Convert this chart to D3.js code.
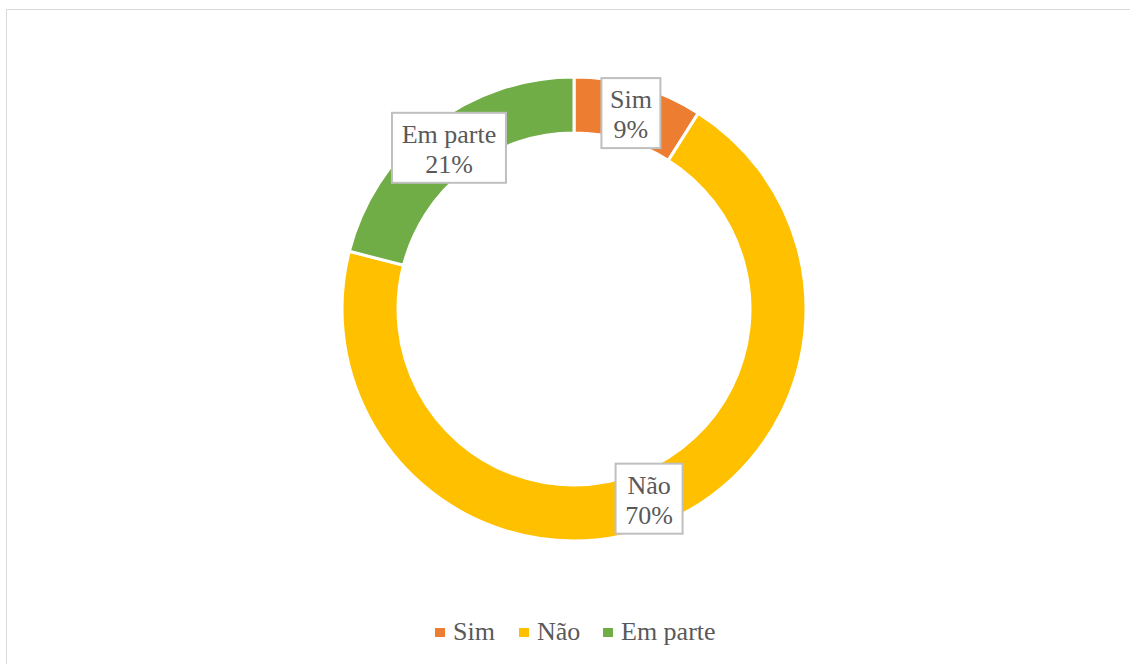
<!DOCTYPE html>
<html><head><meta charset="utf-8">
<script src="https://cdn.jsdelivr.net/npm/d3@7"></script>
<style>body{margin:0;background:#fff}svg{display:block}</style>
</head><body>
<svg id="chart" width="1130" height="664"></svg>
<script>
const categories = ["Sim", "Não", "Em parte"];
const values = [9, 70, 21];
const labels = ["9%", "70%", "21%"];
const colors = ["#ED7D31", "#FFC000", "#70AD47"];

const svg = d3.select("#chart");
const font = "'Liberation Serif','Times New Roman',serif";
svg.append("rect").attr("x", 6.5).attr("y", 9.5).attr("width", 1140).attr("height", 680)
  .attr("fill", "#fff").attr("stroke", "#d9d9d9").attr("stroke-width", 1);

const cx = 574, cy = 309, R = 232, r = 176;
const pie = d3.pie().sort(null).value(d => d)(values);
const arc = d3.arc().innerRadius(r).outerRadius(R);
const g = svg.append("g").attr("transform", `translate(${cx},${cy})`);
g.selectAll("path").data(pie).join("path")
  .attr("d", arc).attr("fill", (d, i) => colors[i])
  .attr("stroke", "#fff").attr("stroke-width", 3);

const mid = d3.arc().innerRadius((R + r) / 2).outerRadius((R + r) / 2);
const boxW = [59, 67, 114];
pie.forEach((d, i) => {
  const [x, y] = mid.centroid(d);
  const lg = g.append("g").attr("transform", `translate(${x},${y})`);
  lg.append("rect").attr("x", -boxW[i] / 2).attr("y", -35).attr("width", boxW[i]).attr("height", 70)
    .attr("fill", "#fff").attr("stroke", "#bfbfbf").attr("stroke-width", 2);
  lg.append("text").attr("text-anchor", "middle").attr("y", -5)
    .attr("font-family", font).attr("font-size", 26).attr("fill", "#595959").text(categories[i]);
  lg.append("text").attr("text-anchor", "middle").attr("y", 25)
    .attr("font-family", font).attr("font-size", 26).attr("fill", "#595959").text(labels[i]);
});

const legX = [435, 519, 603];
const leg = svg.append("g");
categories.forEach((c, i) => {
  leg.append("rect").attr("x", legX[i]).attr("y", 628).attr("width", 10).attr("height", 9).attr("fill", colors[i]);
  leg.append("text").attr("x", legX[i] + 18).attr("y", 640)
    .attr("font-family", font).attr("font-size", 26).attr("fill", "#595959").text(c);
});
</script>
</body></html>
